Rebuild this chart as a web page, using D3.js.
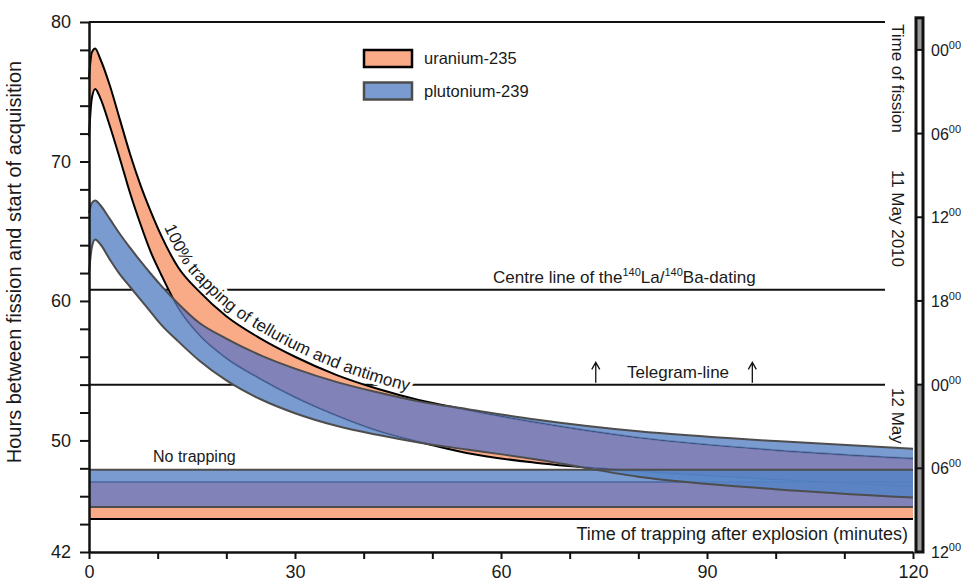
<!DOCTYPE html>
<html>
<head>
<meta charset="utf-8">
<script src="https://cdn.jsdelivr.net/npm/d3@7"></script>
<style>
  body { margin: 0; background: #fff; }
  text { font-family: "Liberation Sans", Arial, sans-serif; fill: #1a1a1a; }
</style>
</head>
<body>
<svg id="chart" width="968" height="585"></svg>
<script>
// trapping time after explosion (minutes)
const trapTimes = [0, 0.4, 0.9, 1.6, 3, 4.5, 6, 7.5, 9, 10.5, 13, 16, 20, 25, 30, 36, 42, 48, 55, 65, 80, 100, 120];
// hours between fission and start of acquisition, 100% trapping of Te and Sb
const u235Upper = [76.0, 77.8, 78.1, 77.4, 75.5, 73.0, 70.5, 68.3, 66.4, 64.7, 62.4, 60.7, 58.9, 57.3, 56.0, 54.7, 53.7, 52.9, 52.2, 51.3, 50.2, 49.3, 48.7];
const u235Lower = [71.8, 74.5, 75.2, 74.6, 72.6, 70.2, 67.7, 65.5, 63.5, 61.9, 59.5, 57.6, 55.9, 54.4, 53.1, 51.8, 50.7, 49.9, 49.1, 48.4, 47.8, 47.2, 46.7];
const pu239Upper = [66.3, 67.0, 67.2, 66.9, 65.9, 64.8, 63.8, 62.85, 61.95, 61.1, 59.8, 58.45, 57.3, 56.1, 55.15, 54.2, 53.45, 52.8, 52.25, 51.5, 50.65, 49.95, 49.4];
const pu239Lower = [62.0, 63.8, 64.4, 64.1, 63.0, 61.9, 61.0, 60.1, 59.2, 58.3, 57.1, 55.75, 54.3, 52.95, 51.95, 51.05, 50.4, 49.85, 49.35, 48.65, 47.4, 46.5, 45.9];
// no trapping: [lower, upper]
const noTrapU235 = [44.37, 47.02];
const noTrapPu239 = [45.23, 47.89];

const centreLineHours = 60.8;
const telegramHours = 54;
const telegramArrowTimes = [73.8, 96.6];

const hourTicks = [42, 44, 46, 48, 50, 52, 54, 56, 58, 60, 62, 64, 66, 68, 70, 72, 74, 76, 78, 80];
const hourLabels = [42, 50, 60, 70, 80];
const minuteTicks = [0, 10, 20, 30, 40, 50, 60, 70, 80, 90, 100, 110, 120];
const minuteLabels = [0, 30, 60, 90, 120];

// clock of fission (right side)
const clockHours = [78, 72, 66, 60, 54, 48, 42];
const clockLabels = ["00", "06", "12", "18", "00", "06", "12"];
const clockBar = [42, 80.3];
const clockShaded = [[78, 80.3], [42, 54]];

const orange = "#f9ab88";
const lightBlue = "#628ac8";
const purple = "#6b7cc1";
const deepBlue = "#5685c7";
const blueEdge = "#4d4d4d";

const x = d3.scaleLinear().domain([0, 120]).range([89, 913]);
const y = d3.scaleLinear().domain([42, 80]).range([552, 22]);

const svg = d3.select("#chart");
const defs = svg.append("defs");

const u235Band = trapTimes.map((t, i) => ({ t, hi: u235Upper[i], lo: u235Lower[i] }));
const pu239Band = trapTimes.map((t, i) => ({ t, hi: pu239Upper[i], lo: pu239Lower[i] }));
const flat = r => [0, 120].map(t => ({ t, lo: r[0], hi: r[1] }));
const u235Flat = flat(noTrapU235);
const pu239Flat = flat(noTrapPu239);

const area = d3.area().x(d => x(d.t)).y0(d => y(d.lo)).y1(d => y(d.hi)).curve(d3.curveMonotoneX);
const hiLine = d3.line().x(d => x(d.t)).y(d => y(d.hi)).curve(d3.curveMonotoneX);
const loLine = d3.line().x(d => x(d.t)).y(d => y(d.lo)).curve(d3.curveMonotoneX);

// clip / mask shapes
const clipP = defs.append("clipPath").attr("id", "clipP");
clipP.append("path").attr("d", area(pu239Band));
clipP.append("path").attr("d", area(pu239Flat));
defs.append("clipPath").attr("id", "clipPno").append("path").attr("d", area(pu239Flat));
const notU = defs.append("mask").attr("id", "notU");
notU.append("rect").attr("width", 968).attr("height", 585).attr("fill", "#fff");
notU.append("path").attr("d", area(u235Band)).attr("fill", "#000");
notU.append("path").attr("d", area(u235Flat)).attr("fill", "#000");

// horizontal lines
const frameRight = x(120) - 28;
svg.append("g").selectAll("line")
    .data([80, centreLineHours, telegramHours])
    .join("line")
    .attr("x1", x(0)).attr("x2", frameRight)
    .attr("y1", d => y(d)).attr("y2", d => y(d))
    .attr("stroke", "#111").attr("stroke-width", 2);

// label path: uranium upper edge, pushed outward along its normal
const guide = svg.append("path").attr("d", hiLine(u235Band)).attr("fill", "none");
const gn = guide.node(), gl = gn.getTotalLength();
const offsetPts = [];
for (let s = 1; s < gl - 1; s += 2) {
    const p = gn.getPointAtLength(s), a = gn.getPointAtLength(s - 1), b = gn.getPointAtLength(s + 1);
    const dx = b.x - a.x, dy = b.y - a.y, n = Math.hypot(dx, dy) || 1;
    if (p.x >= 140) offsetPts.push([p.x + dy / n * 6, p.y - dx / n * 6]);
}
guide.remove();
const labelPath = svg.append("path")
    .attr("id", "trapLabelPath")
    .attr("fill", "none")
    .attr("d", d3.line()(offsetPts));
const lp = labelPath.node();
let startOffset = 0;
while (startOffset < lp.getTotalLength() && lp.getPointAtLength(startOffset).x < 164) startOffset += 1;

const trapLabel = "100% trapping of tellurium and antimony";
function trapText(halo) {
    const t = svg.append("text").attr("font-size", 17);
    if (halo) t.attr("fill", "#fff").attr("stroke", "#fff").attr("stroke-width", 6).attr("stroke-linejoin", "round");
    t.append("textPath").attr("href", "#trapLabelPath").attr("startOffset", startOffset).text(trapLabel);
}
trapText(true);

// white under the plutonium bands hides the guide lines
svg.append("path").attr("d", area(pu239Band)).attr("fill", "#fff");

// uranium bands
svg.append("path").attr("d", area(u235Band)).attr("fill", orange);
svg.append("path").attr("d", area(u235Flat)).attr("fill", orange);
[u235Band, u235Flat].forEach(b => {
    svg.append("path").attr("d", hiLine(b)).attr("fill", "none").attr("stroke", "#000").attr("stroke-width", 2);
    svg.append("path").attr("d", loLine(b)).attr("fill", "none").attr("stroke", "#000").attr("stroke-width", 2);
});

// plutonium bands drawn over
const over = svg.append("g").attr("opacity", 0.85);
const lb = over.append("g").attr("mask", "url(#notU)");
lb.append("path").attr("d", area(pu239Band)).attr("fill", lightBlue);
lb.append("path").attr("d", area(pu239Flat)).attr("fill", lightBlue);
const pp = over.append("g").attr("clip-path", "url(#clipP)");
pp.append("path").attr("d", area(u235Band)).attr("fill", purple);
pp.append("path").attr("d", area(u235Flat)).attr("fill", purple);
svg.append("g").attr("opacity", 0.85).attr("clip-path", "url(#clipPno)")
    .append("path").attr("d", area(pu239Band)).attr("fill", deepBlue);
[pu239Band, pu239Flat].forEach(b => {
    svg.append("path").attr("d", hiLine(b)).attr("fill", "none").attr("stroke", blueEdge).attr("stroke-width", 2);
    svg.append("path").attr("d", loLine(b)).attr("fill", "none").attr("stroke", blueEdge).attr("stroke-width", 2);
});

trapText(false);

// telegram arrows
svg.append("g").selectAll("path")
    .data(telegramArrowTimes)
    .join("path")
    .attr("d", d => {
        const ax = x(d), y0 = y(telegramHours) - 2, y1 = y(55.6);
        return `M${ax},${y0}V${y1}M${ax - 4},${y1 + 7}L${ax},${y1}L${ax + 4},${y1 + 7}`;
    })
    .attr("fill", "none").attr("stroke", "#111").attr("stroke-width", 1.3);

// texts inside plot
svg.append("text").attr("x", 627).attr("y", y(telegramHours) - 7).attr("font-size", 17).text("Telegram-line");
const cl = svg.append("text").attr("x", 493).attr("y", y(centreLineHours) - 7).attr("font-size", 17);
cl.append("tspan").text("Centre line of the");
cl.append("tspan").attr("font-size", 11).attr("dy", -7).text("140");
cl.append("tspan").attr("dy", 7).text("La/");
cl.append("tspan").attr("font-size", 11).attr("dy", -7).text("140");
cl.append("tspan").attr("dy", 7).text("Ba-dating");
svg.append("text").attr("x", 153).attr("y", 462).attr("font-size", 16).text("No trapping");
svg.append("text").attr("x", 908).attr("y", 540).attr("text-anchor", "end").attr("font-size", 18)
    .text("Time of trapping after explosion (minutes)");

// legend
const legend = [
    { label: "uranium-235", fill: orange, stroke: "#000", y: 50 },
    { label: "plutonium-239", fill: "#7a9bd0", stroke: blueEdge, y: 82.5 }
];
const lg = svg.append("g").selectAll("g").data(legend).join("g");
lg.append("rect").attr("x", 364).attr("y", d => d.y).attr("width", 48).attr("height", 17)
    .attr("fill", d => d.fill).attr("stroke", d => d.stroke).attr("stroke-width", 2.5);
lg.append("text").attr("x", 424).attr("y", d => d.y + 14).attr("font-size", 16.5).text(d => d.label);

// axes
const yAxis = d3.axisLeft(y).tickValues(hourTicks)
    .tickFormat(d => hourLabels.includes(d) ? d : "")
    .tickSize(9).tickSizeOuter(0).tickPadding(9);
const gy = svg.append("g").attr("transform", `translate(${x(0)},0)`).call(yAxis);
const xAxis = d3.axisBottom(x).tickValues(minuteTicks)
    .tickFormat(d => minuteLabels.includes(d) ? d : "")
    .tickSize(7).tickSizeOuter(0).tickPadding(6);
const gx = svg.append("g").attr("transform", `translate(0,${y(42)})`).call(xAxis);
[gx, gy].forEach(g => {
    g.selectAll("path.domain").attr("stroke", "#111").attr("stroke-width", 2.5);
    g.selectAll(".tick line").attr("stroke", "#111").attr("stroke-width", 2);
    g.selectAll("text").attr("font-size", 18).attr("font-family", "Liberation Sans, Arial, sans-serif").attr("fill", "#1a1a1a");
});

svg.append("text")
    .attr("transform", `translate(21,262) rotate(-90)`)
    .attr("text-anchor", "middle").attr("font-size", 20)
    .text("Hours between fission and start of acquisition");

// clock bar on the right
const barX = 916, barW = 7;
svg.append("rect").attr("x", barX).attr("y", y(clockBar[1])).attr("width", barW)
    .attr("height", y(clockBar[0]) - y(clockBar[1])).attr("fill", "#fff");
svg.append("g").selectAll("rect").data(clockShaded).join("rect")
    .attr("x", barX).attr("y", d => y(d[1])).attr("width", barW)
    .attr("height", d => y(d[0]) - y(d[1])).attr("fill", "#9a9a9a");
svg.append("g").selectAll("line").data(clockHours).join("line")
    .attr("x1", barX).attr("x2", barX + barW)
    .attr("y1", d => y(d)).attr("y2", d => y(d))
    .attr("stroke", "#111").attr("stroke-width", 2);
svg.append("rect").attr("x", barX).attr("y", y(clockBar[1])).attr("width", barW)
    .attr("height", y(clockBar[0]) - y(clockBar[1]))
    .attr("fill", "none").attr("stroke", "#111").attr("stroke-width", 3);
const ct = svg.append("g").selectAll("text").data(clockHours).join("text")
    .attr("x", 931).attr("y", d => y(d) + 6).attr("font-size", 16);
ct.append("tspan").text((d, i) => clockLabels[i]);
ct.append("tspan").attr("font-size", 11).attr("dy", -7).text("00");

// rotated date labels
[["Time of fission", 24], ["11 May 2010", 170], ["12 May", 388]].forEach(([s, yy]) => {
    svg.append("text").attr("transform", `translate(892,${yy}) rotate(90)`)
        .attr("font-size", 17).text(s);
});
</script>
</body>
</html>
